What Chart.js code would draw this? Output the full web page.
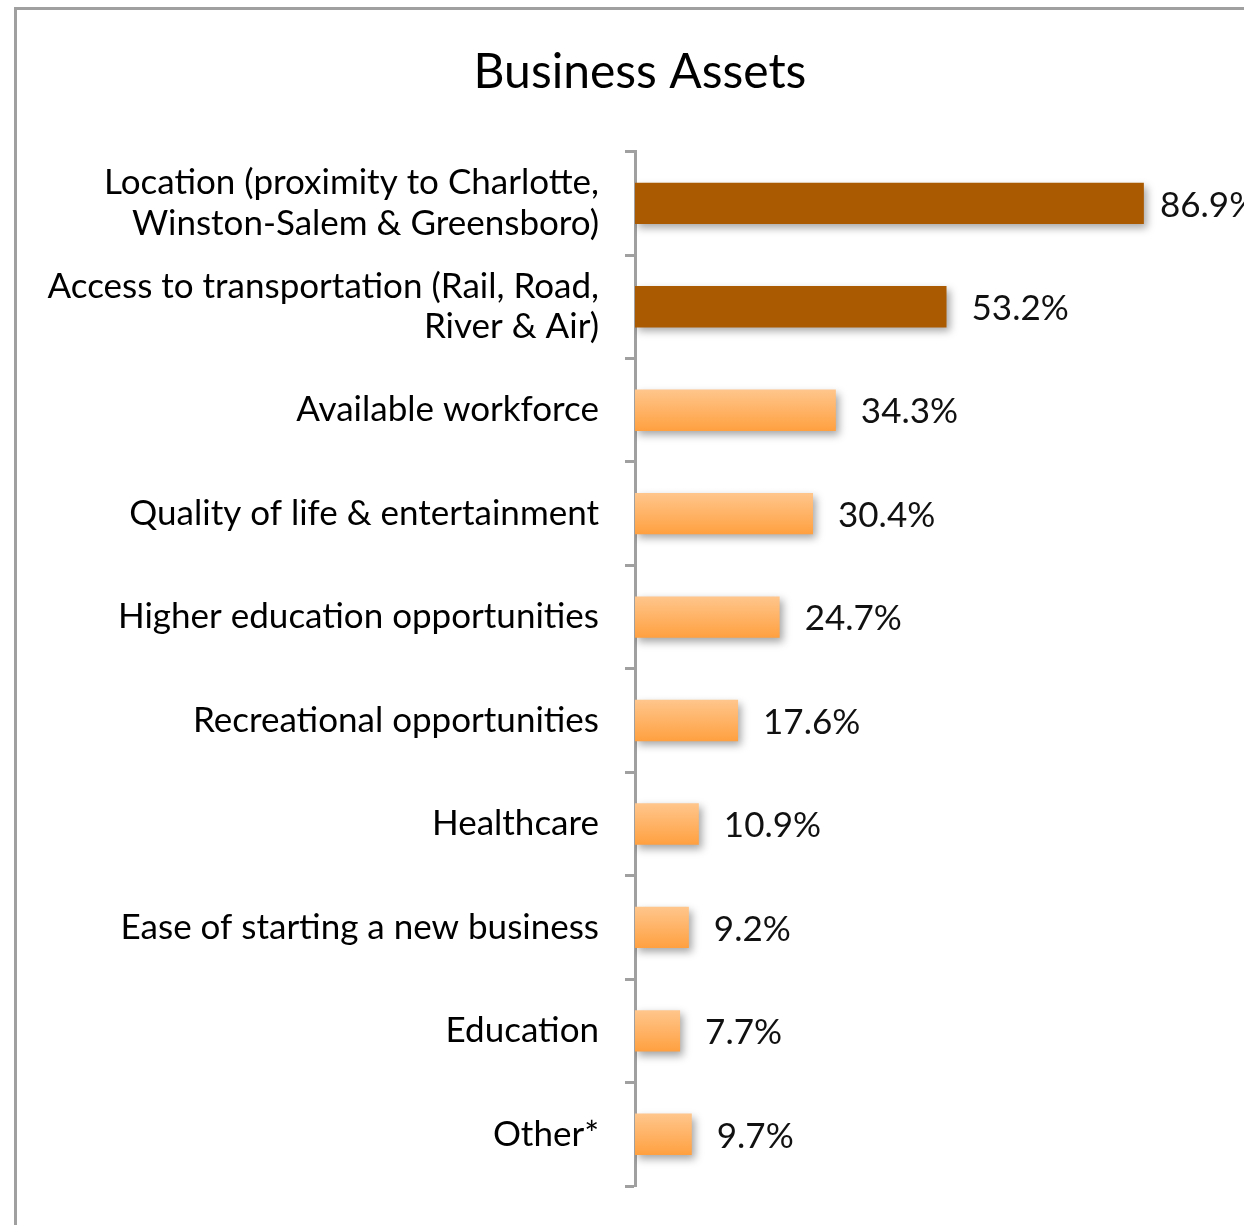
<!DOCTYPE html>
<html>
<head>
<meta charset="utf-8">
<script src="https://cdn.jsdelivr.net/npm/chart.js@4.4.1/dist/chart.umd.min.js"></script>
<style>
  html, body { margin: 0; padding: 0; background: #fff; overflow: hidden; width: 1244px; height: 1225px; }
  #frame { position: absolute; left: 14px; top: 7px; width: 1400px; height: 1400px; border: 3px solid #a0a0a0; box-sizing: border-box; }
  #wrap { position: absolute; left: 0; top: 0; width: 1244px; height: 1225px; }
</style>
</head>
<body>
<div id="frame"></div>
<div id="wrap"><canvas id="c" width="1244" height="1225"></canvas></div>
<script>
const titleText = "Business Assets";
const categories = [
  ["Location (proximity to Charlotte,", "Winston-Salem & Greensboro)"],
  ["Access to transportation (Rail, Road,", "River & Air)"],
  "Available workforce",
  "Quality of life & entertainment",
  "Higher education opportunities",
  "Recreational opportunities",
  "Healthcare",
  "Ease of starting a new business",
  "Education",
  "Other*"
];
const values = [86.9, 53.2, 34.3, 30.4, 24.7, 17.6, 10.9, 9.2, 7.7, 9.7];
const highlighted = [true, true, false, false, false, false, false, false, false, false];

const FONT = "Lato, 'Noto Sans', sans-serif";

function barColor(ctx) {
  const i = ctx.dataIndex;
  if (highlighted[i]) return '#aa5a00';
  const chart = ctx.chart;
  const y = chart.scales && chart.scales.y;
  if (!y || !chart.chartArea) return '#ffb060';
  const c = y.getPixelForValue(i);
  const h = 20.7;
  const g = chart.ctx.createLinearGradient(0, c - h, 0, c + h);
  g.addColorStop(0, '#ffc68c');
  g.addColorStop(1, '#ffa040');
  return g;
}

const shadowPlugin = {
  id: 'barShadow',
  beforeDatasetsDraw(chart) {
    const ctx = chart.ctx;
    ctx.save();
    ctx.shadowColor = 'rgba(0,0,0,0.35)';
    ctx.shadowBlur = 8;
    ctx.shadowOffsetX = 3;
    ctx.shadowOffsetY = 4;
  },
  afterDatasetsDraw(chart) {
    chart.ctx.restore();
  }
};

const valueLabels = {
  id: 'valueLabels',
  afterDraw(chart) {
    const ctx = chart.ctx;
    const meta = chart.getDatasetMeta(0);
    const maxX = chart.chartArea.right - 84;
    ctx.save();
    ctx.font = "35px " + FONT;
    ctx.fillStyle = '#111';
    ctx.textAlign = 'left';
    ctx.textBaseline = 'middle';
    meta.data.forEach((bar, i) => {
      const x = Math.min(bar.x + 25, maxX);
      ctx.fillText(values[i].toFixed(1) + '%', x, bar.y + 2);
    });
    ctx.restore();
  }
};

new Chart(document.getElementById('c'), {
  type: 'bar',
  data: {
    labels: categories,
    datasets: [{
      data: values,
      backgroundColor: barColor,
      borderWidth: 0,
      barPercentage: 0.4,
      categoryPercentage: 1.0
    }]
  },
  plugins: [shadowPlugin, valueLabels],
  options: {
    indexAxis: 'y',
    responsive: false,
    animation: false,
    layout: { padding: { left: 36, right: 0, top: 0, bottom: 39 } },
    plugins: {
      legend: { display: false },
      tooltip: { enabled: false },
      title: {
        display: true,
        text: titleText,
        color: '#000',
        font: { family: FONT, size: 48, weight: 'normal' },
        padding: { top: 44, bottom: 50 }
      }
    },
    scales: {
      x: {
        display: false,
        min: 0,
        max: 104
      },
      y: {
        afterFit(scale) {
          scale.width = 599;
          scale.paddingTop = 0;
          scale.paddingBottom = 0;
        },
        grid: {
          display: true,
          drawOnChartArea: false,
          drawTicks: true,
          tickLength: 10,
          tickWidth: 3,
          color: '#a0a0a0',
          offset: true
        },
        border: { display: true, color: '#a0a0a0', width: 3 },
        ticks: {
          color: '#000',
          padding: 26,
          font: { family: FONT, size: 35, lineHeight: 1.15 },
          autoSkip: false
        }
      }
    }
  }
});
</script>
</body>
</html>
